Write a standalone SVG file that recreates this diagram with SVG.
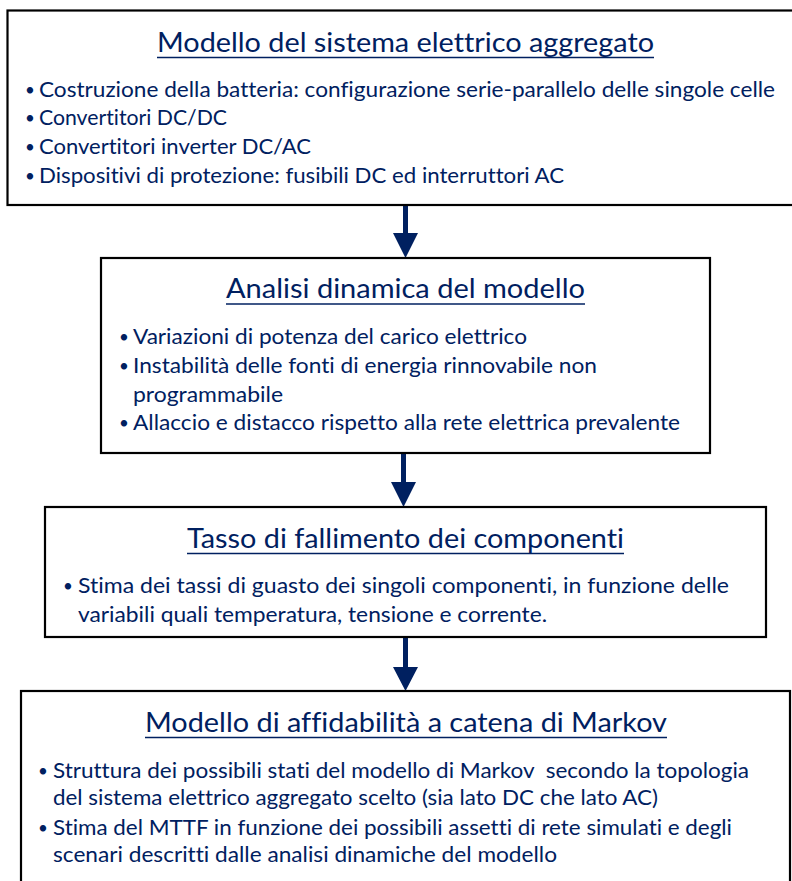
<svg xmlns="http://www.w3.org/2000/svg" width="792" height="881" viewBox="0 0 792 881">
<style>
.box{fill:#ffffff;stroke:#000000;stroke-width:2.2}
.t{font-family:Lato,"Liberation Sans",sans-serif;fill:#002060;font-variant-ligatures:none;font-feature-settings:"liga" 0,"clig" 0}
.title{font-size:27px}
.body{font-size:21px}
.bul{font-size:17px}
.ul{stroke:#002060;stroke-width:1.6}
.arrow{fill:#002060}
</style>
<rect width="792" height="881" fill="#ffffff"/>
<g id="connectors">
<path class="arrow" d="M403,205 H408 V233 H418 L405.5,258 L393,233 H403 Z"/>
<path class="arrow" d="M401,453 H406 V482 H416 L403.5,507 L391,482 H401 Z"/>
<path class="arrow" d="M403,637 H408 V667 H418 L405.5,691 L393,667 H403 Z"/>
</g>
<g id="node1">
<rect class="box" x="7.5" y="10.5" width="800" height="194.5"/>
<text class="t title" x="157" y="52" textLength="497" lengthAdjust="spacingAndGlyphs">Modello del sistema elettrico aggregato</text>
<line class="ul" x1="157" y1="57.5" x2="654" y2="57.5"/>
<text class="t bul" x="25" y="96">•</text>
<text class="t body" x="39" y="97" textLength="736" lengthAdjust="spacingAndGlyphs">Costruzione della batteria: configurazione serie-parallelo delle singole celle</text>
<text class="t bul" x="25" y="124">•</text>
<text class="t body" x="39" y="125" textLength="188" lengthAdjust="spacingAndGlyphs">Convertitori DC/DC</text>
<text class="t bul" x="25" y="153">•</text>
<text class="t body" x="39" y="154" textLength="272" lengthAdjust="spacingAndGlyphs">Convertitori inverter DC/AC</text>
<text class="t bul" x="25" y="182">•</text>
<text class="t body" x="39" y="183" textLength="525" lengthAdjust="spacingAndGlyphs">Dispositivi di protezione: fusibili DC ed interruttori AC</text>
</g>
<g id="node2">
<rect class="box" x="101" y="258" width="609" height="195"/>
<text class="t title" x="226" y="298" textLength="359" lengthAdjust="spacingAndGlyphs">Analisi dinamica del modello</text>
<line class="ul" x1="226" y1="304" x2="585" y2="304"/>
<text class="t bul" x="119" y="343">•</text>
<text class="t body" x="133" y="344" textLength="394" lengthAdjust="spacingAndGlyphs">Variazioni di potenza del carico elettrico</text>
<text class="t bul" x="119" y="372">•</text>
<text class="t body" x="133" y="373" textLength="464" lengthAdjust="spacingAndGlyphs">Instabilità delle fonti di energia rinnovabile non</text>
<text class="t body" x="133" y="402" textLength="150" lengthAdjust="spacingAndGlyphs">programmabile</text>
<text class="t bul" x="119" y="429">•</text>
<text class="t body" x="133" y="430" textLength="547" lengthAdjust="spacingAndGlyphs">Allaccio e distacco rispetto alla rete elettrica prevalente</text>
</g>
<g id="node3">
<rect class="box" x="45" y="507" width="721" height="130"/>
<text class="t title" x="187" y="548" textLength="437" lengthAdjust="spacingAndGlyphs">Tasso di fallimento dei componenti</text>
<line class="ul" x1="187" y1="553.5" x2="624" y2="553.5"/>
<text class="t bul" x="63" y="592">•</text>
<text class="t body" x="78" y="593" textLength="651" lengthAdjust="spacingAndGlyphs">Stima dei tassi di guasto dei singoli componenti, in funzione delle</text>
<text class="t body" x="78" y="622" textLength="469" lengthAdjust="spacingAndGlyphs">variabili quali temperatura, tensione e corrente.</text>
</g>
<g id="node4">
<rect class="box" x="21" y="691" width="769" height="200"/>
<text class="t title" x="145" y="732" textLength="522" lengthAdjust="spacingAndGlyphs">Modello di affidabilità a catena di Markov</text>
<line class="ul" x1="145" y1="737.5" x2="667" y2="737.5"/>
<text class="t bul" x="38" y="777">•</text>
<text class="t body" x="53" y="778" textLength="696" lengthAdjust="spacingAndGlyphs" xml:space="preserve">Struttura dei possibili stati del modello di Markov  secondo la topologia</text>
<text class="t body" x="53" y="805" textLength="605" lengthAdjust="spacingAndGlyphs">del sistema elettrico aggregato scelto (sia lato DC che lato AC)</text>
<text class="t bul" x="38" y="834">•</text>
<text class="t body" x="53" y="835" textLength="679" lengthAdjust="spacingAndGlyphs">Stima del MTTF in funzione dei possibili assetti di rete simulati e degli</text>
<text class="t body" x="53" y="862" textLength="504" lengthAdjust="spacingAndGlyphs">scenari descritti dalle analisi dinamiche del modello</text>
</g>
</svg>
